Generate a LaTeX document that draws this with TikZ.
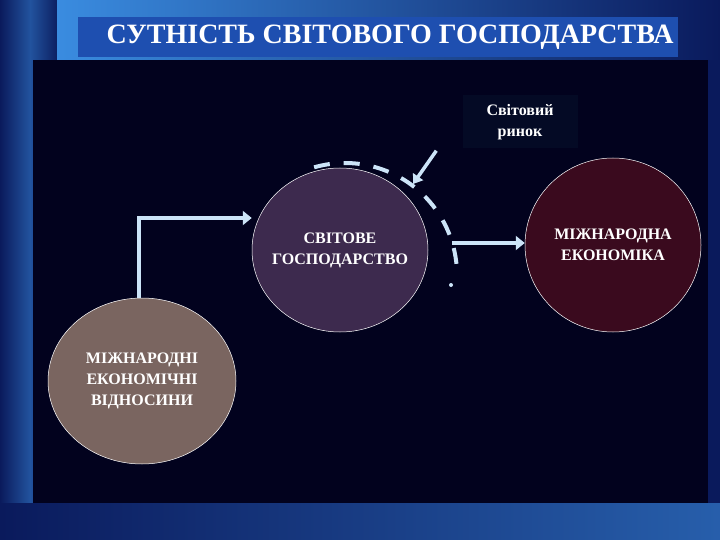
\documentclass[tikz,border=0pt]{standalone}
\usepackage{fontspec}
\setmainfont{Liberation Serif}
\usetikzlibrary{arrows.meta,shapes.geometric}
\definecolor{bgdark}{HTML}{0A1A5C}
\definecolor{bglight}{HTML}{3A8CE0}
\definecolor{titlebg}{HTML}{1E4FB0}
\definecolor{panel}{HTML}{02021E}
\definecolor{arr}{HTML}{CCE4F8}
\definecolor{svit}{HTML}{3D2A4E}
\definecolor{mizh}{HTML}{3A0A1E}
\definecolor{rel}{HTML}{7A6560}
\begin{document}
\begin{tikzpicture}[x=1pt,y=-1pt,
  ell/.style={ellipse,draw=white,line width=0.5pt,text=white,font=\bfseries\fontsize{16}{21}\selectfont,align=center,inner sep=-10pt},
  flow/.style={draw=arr,line width=4.5pt,-{Triangle[length=9pt,width=14pt]}}]
\fill[bgdark] (0,0) rectangle (720,540);
\shade[left color=bgdark,right color=bgdark,middle color=bglight!50!bgdark] (0,0) rectangle (60,540);
\shade[left color=bglight,right color=bgdark] (57,0) rectangle (720,60);
\shade[left color=bgdark,right color=bglight!60!bgdark] (0,503) rectangle (720,540);
\fill[titlebg] (78,17) rectangle (678,57);
\node[text=white,font=\bfseries\fontsize{28}{30}\selectfont] (title) at (390,37) {СУТНІСТЬ СВІТОВОГО ГОСПОДАРСТВА};
\fill[panel] (33,60) rectangle (708,503);
\node[fill=black!60!bgdark,minimum width=115pt,minimum height=53pt,align=center,text=white,font=\bfseries\fontsize{16}{21}\selectfont] (mkt) at (520,122) {Світовий\\ринок};
\node[ell,fill=svit,minimum width=176pt,minimum height=164pt] (sg) at (340,250) {СВІТОВЕ\\ГОСПОДАРСТВО};
\node[ell,fill=mizh,minimum width=176pt,minimum height=174pt] (me) at (613,245) {МІЖНАРОДНА\\ЕКОНОМІКА};
\node[ell,fill=rel,minimum width=188pt,minimum height=166pt] (mev) at (142,381) {МІЖНАРОДНІ\\ЕКОНОМІЧНІ\\ВІДНОСИНИ};
\draw[flow] (mev.north -| 139,0) |- (sg.west |- 0,218);
\draw[flow] (452,243) coordinate (s2) -- (me.west |- s2);
\draw[draw=arr,line width=4pt,dash pattern=on 16pt off 14pt] (345,275) ++(-106:112) coordinate (ta) arc[start angle=-106,end angle=-4,radius=112];
\fill[arr] (451,285) circle (2pt);
\draw[draw=arr,line width=3.5pt,-{Triangle[length=9pt,width=12pt]}] (mkt.south west) ++(-26,2) coordinate (mk) -- (413,184);
\end{tikzpicture}
\end{document}
